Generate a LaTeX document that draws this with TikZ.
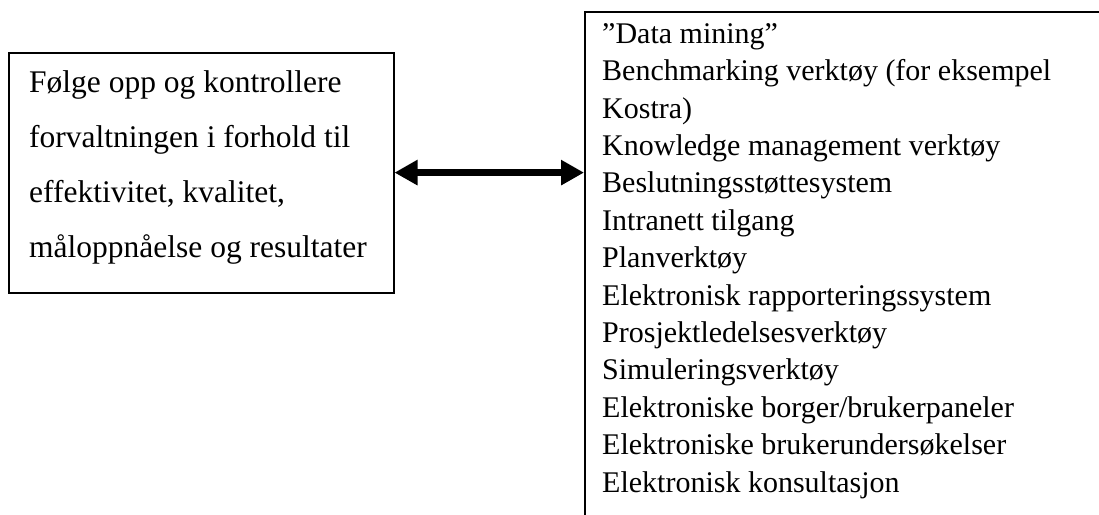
\documentclass[tikz,border=0pt]{standalone}
\usepackage{fontspec}
\setmainfont{Liberation Serif}
\usetikzlibrary{arrows.meta}
\begin{document}
\begin{tikzpicture}[x=1pt,y=-1pt,
  boxline/.style={draw=black,line width=1.8pt,inner sep=0pt,anchor=north west},
  lefttxt/.style={font=\fontsize{31.5pt}{55pt}\selectfont,align=left,inner sep=0pt,anchor=base west},
  righttxt/.style={font=\fontsize{30pt}{37.4pt}\selectfont,align=left,inner sep=0pt,anchor=base west},
  dbl/.style={{Triangle[length=23pt,width=24pt]}-{Triangle[length=23pt,width=24pt]},line width=6.5pt}]
\useasboundingbox (0,0) rectangle (1099,514);
\clip (0,0) rectangle (1099,514);
\node[boxline,minimum width=384.7pt,minimum height=240pt] (leftbox) at (8,51.7) {};
\node[boxline,minimum width=560pt,minimum height=540pt] (rightbox) at (584,10.7) {};
\node[lefttxt] (lefttext) at (29,257) {Følge opp og kontrollere\\forvaltningen i forhold til\\effektivitet, kvalitet,\\måloppnåelse og resultater};
\node[righttxt] (righttext) at (602,492) {”Data mining”\\Benchmarking verktøy (for eksempel\\Kostra)\\Knowledge management verktøy\\Beslutningsstøttesystem\\Intranett tilgang\\Planverktøy\\Elektronisk rapporteringssystem\\Prosjektledelsesverktøy\\Simuleringsverktøy\\Elektroniske borger/brukerpaneler\\Elektroniske brukerundersøkelser\\Elektronisk konsultasjon};
\draw[dbl] (leftbox.east) -- (leftbox.east -| rightbox.west);
\end{tikzpicture}
\end{document}
